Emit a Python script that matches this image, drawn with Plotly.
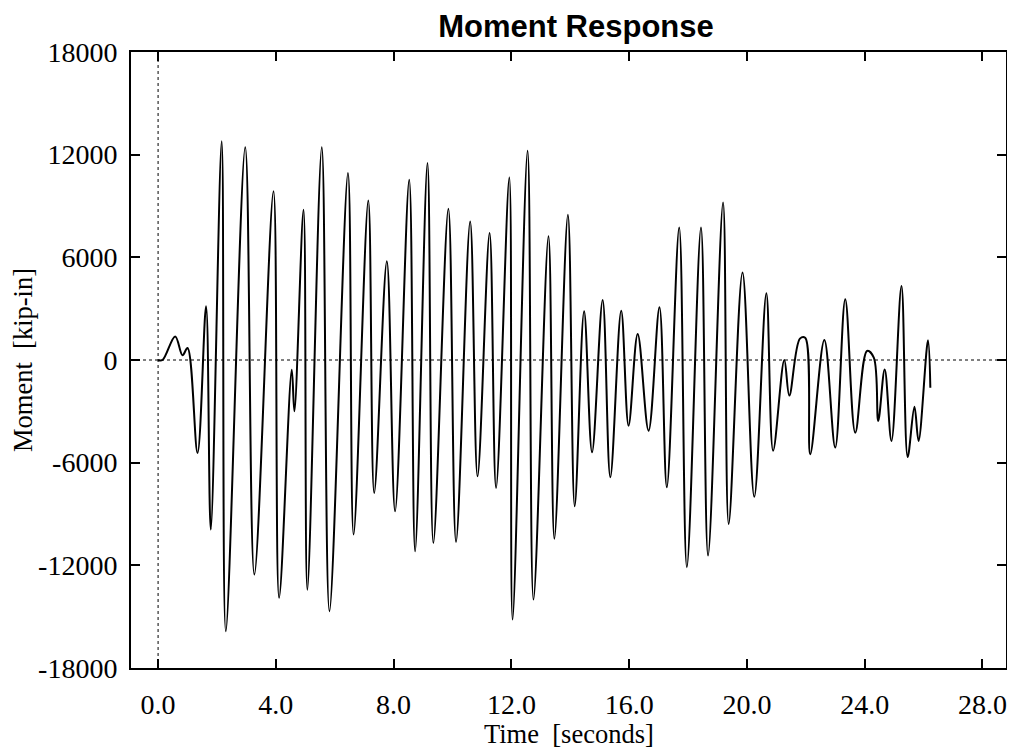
import plotly.graph_objects as go

# time history (peaks and troughs)
time_s = [0.0, 0.15, 0.58, 0.83, 1.00, 1.34, 1.63, 1.79, 2.16, 2.30, 2.96, 3.27, 3.92, 4.11,
          4.54, 4.63, 4.94, 5.07, 5.56, 5.82, 6.45, 6.64, 7.14, 7.34, 7.77, 8.05, 8.53, 8.73,
          9.15, 9.35, 9.86, 10.12, 10.60, 10.85, 11.26, 11.48, 11.93, 12.04, 12.55, 12.75,
          13.26, 13.46, 13.92, 14.15, 14.47, 14.74, 15.10, 15.36, 15.73, 15.98, 16.29, 16.66,
          17.03, 17.28, 17.70, 17.96, 18.44, 18.68, 19.19, 19.38, 19.85, 20.25, 20.66, 20.89,
          21.27, 21.44, 21.80, 21.98, 22.15, 22.63, 23.00, 23.34, 23.68, 24.08, 24.31, 24.46,
          24.68, 24.91, 25.25, 25.46, 25.69, 25.83, 26.15, 26.23]
moment = [0, 0, 1380, 280, 700, -5430, 3140, -9910, 12780, -15850, 12430, -12540, 9860, -13900,
          -570, -3000, 8780, -13420, 12430, -14680, 10930, -10200, 9320, -7770, 5770, -8840,
          10540, -11180, 11510, -10690, 8840, -10630, 8100, -6800, 7420, -7480, 10670, -15170,
          12230, -14000, 7230, -10440, 8490, -8550, 2850, -5390, 3510, -6850, 2880, -3840,
          1520, -4130, 3080, -7440, 7750, -12110, 7750, -11430, 9210, -9580, 5120, -7990,
          3900, -5300, 0, -2080, 1250, 1300, -5510, 1170, -5120, 3550, -4250, 530, 140,
          -3560, -550, -4730, 4320, -5670, -2730, -4730, 1150, -1620]

x_ticks = [0, 4, 8, 12, 16, 20, 24, 28]
x_tick_text = ["0.0", "4.0", "8.0", "12.0", "16.0", "20.0", "24.0", "28.0"]
y_ticks = [-18000, -12000, -6000, 0, 6000, 12000, 18000]
y_tick_text = ["-18000", "-12000", "-6000", "0", "6000", "12000", "18000"]

serif = "Liberation Serif, Times New Roman, serif"

fig = go.Figure()
fig.add_trace(go.Scatter(x=time_s, y=moment, mode="lines",
                         line=dict(color="black", width=2, shape="spline", smoothing=1.0),
                         showlegend=False, hoverinfo="skip"))

# dotted reference lines at t=0 and M=0
fig.add_vline(x=0, line=dict(color="black", width=1, dash="dot"))
fig.add_hline(y=0, line=dict(color="black", width=1, dash="dot"))

axis_common = dict(showline=True, linecolor="black", linewidth=2, mirror="allticks",
                   ticks="inside", ticklen=9, tickwidth=2, tickcolor="black",
                   showgrid=False, zeroline=False, automargin=False,
                   tickfont=dict(family=serif, size=28, color="black"))

# page body adds an 8px margin, so the figure is 8px smaller than the window
fig.update_layout(
    width=1007, height=744,
    margin=dict(l=123, r=9, t=44, b=84),
    paper_bgcolor="white", plot_bgcolor="white",
    title=dict(text="<b>Moment Response</b>", x=0.564, xanchor="center", y=0.975, yanchor="middle",
               font=dict(family="Liberation Sans, Arial, sans-serif", size=31, color="black")),
    xaxis=dict(range=[-0.92, 28.8], tickvals=x_ticks, ticktext=x_tick_text,
               ticklabelstandoff=10, **axis_common),
    yaxis=dict(range=[-18000, 18000], tickvals=y_ticks, ticktext=y_tick_text,
               ticklabelstandoff=6,
               title=dict(text="Moment  [kip-in]", standoff=8,
                          font=dict(family=serif, size=26.5, color="black")),
               **axis_common),
    annotations=[dict(text="Time  [seconds]", xref="paper", yref="paper", x=0.5, y=0,
                      xanchor="center", yanchor="middle", yshift=-66, showarrow=False,
                      font=dict(family=serif, size=26.5, color="black"))],
)

fig.write_html("out.html")
